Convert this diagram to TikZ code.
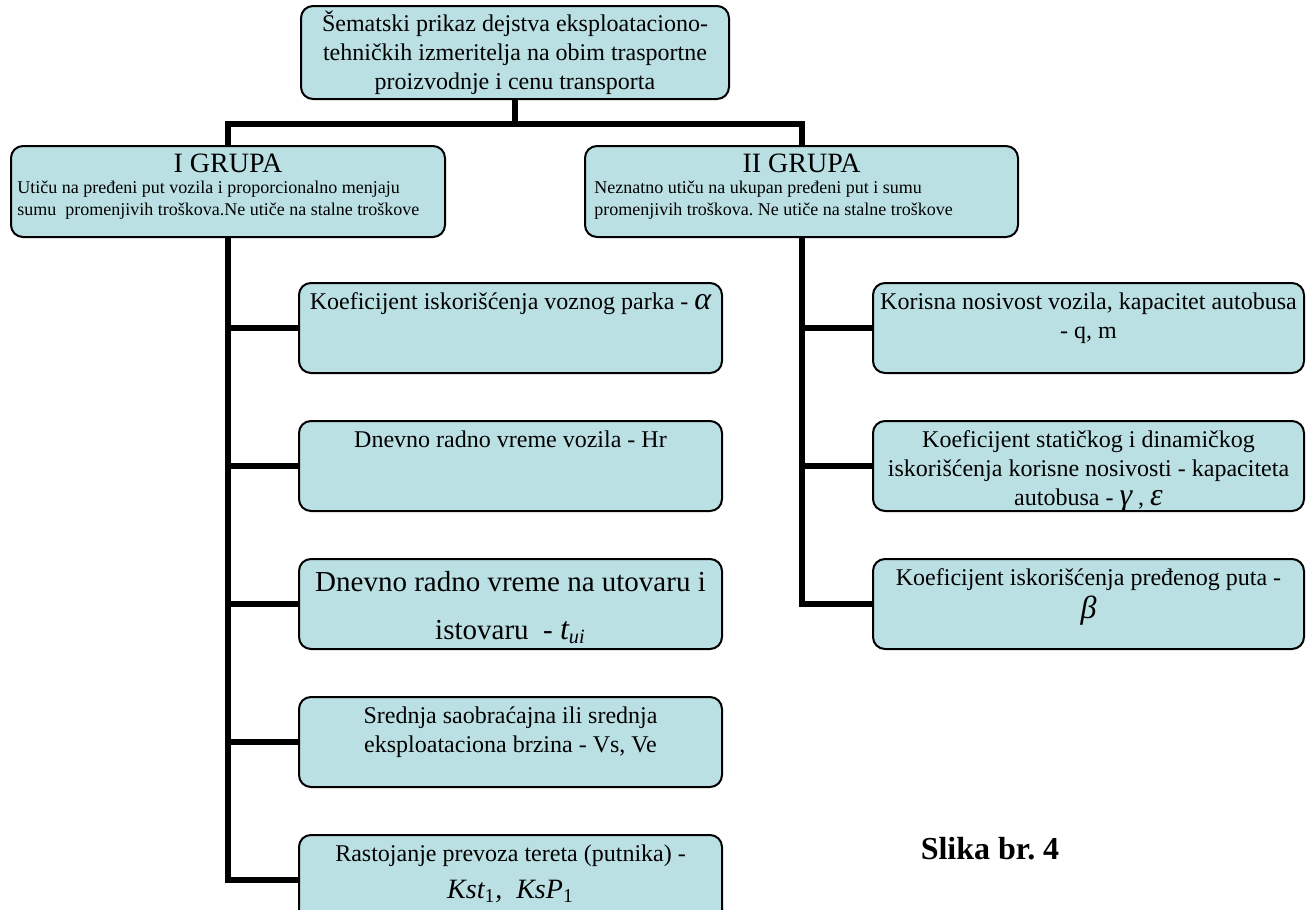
\documentclass[tikz,border=0pt]{standalone}
\usepackage{fontspec}
\setmainfont{Liberation Serif}
\usetikzlibrary{positioning}
\definecolor{boxfill}{RGB}{187,224,227}
\frenchspacing

\begin{document}
\begin{tikzpicture}[x=0.5pt,y=-0.5pt,node distance=23pt,
      card/.style={draw,line width=1pt,rounded corners=6pt,fill=boxfill,anchor=north west,inner sep=0pt},
      leftcard/.style={card,minimum width=211.5pt,minimum height=45pt},
      rightcard/.style={card,minimum width=215.5pt,minimum height=45pt},
      txt/.style={inner sep=0pt,align=center,font=\fontsize{12}{14.5}\selectfont},
      small/.style={inner sep=0pt,align=left,font=\fontsize{9}{11}\selectfont},
      link/.style={line width=3pt}]
  \useasboundingbox (0,0) rectangle (1312,910);
  \clip (0,0) rectangle (1312,910);

  % vrh i dve grupe
  \node[card,minimum width=214pt,minimum height=46.5pt,align=center,font=\fontsize{12}{14.5}\selectfont](Sema) at (300,5)
        {Šematski prikaz dejstva eksploataciono-\\tehničkih izmeritelja na obim trasportne\\proizvodnje i cenu transporta};
  \node[card,minimum width=217pt,minimum height=45.5pt](GrupaI)  at (10,145)  {};
  \node[card,minimum width=216.5pt,minimum height=45.5pt](GrupaII) at (584,145) {};
  \node[below=4.3pt of GrupaI.north,inner sep=0pt,font=\fontsize{14}{16}\selectfont](GrupaIt)  {I GRUPA};
  \node[below=4.3pt of GrupaII.north,inner sep=0pt,font=\fontsize{14}{16}\selectfont](GrupaIIt) {II GRUPA};
  \node[small,below right=18pt and 3.5pt of GrupaI.north west](GrupaId)
        {Utiču na pređeni put vozila i proporcionalno menjaju\\sumu\ \ promenjivih troškova.Ne utiče na stalne troškove};
  \node[small,below right=18pt and 5pt of GrupaII.north west](GrupaIId)
        {Neznatno utiču na ukupan pređeni put i sumu\\promenjivih troškova. Ne utiče na stalne troškove};

  % I grupa
  \node[leftcard]            (k1) at (298,282) {};
  \node[leftcard,below=of k1](k2) {};
  \node[leftcard,below=of k2](k3) {};
  \node[leftcard,below=of k3](k4) {};
  \node[leftcard,below=of k4](k5) {};

  % II grupa
  \node[rightcard]            (r1) at (872,282) {};
  \node[rightcard,below=of r1](r2) {};
  \node[rightcard,below=of r2](r3) {};

  % tekstovi
  \node[txt,below=5pt of k1.north](k1t) {Koeficijent iskorišćenja voznog parka -\ {\fontsize{16}{16}\selectfont\itshape α}};
  \node[txt,below=5pt of k2.north](k2t) {Dnevno radno vreme vozila - Hr};
  \node[txt,below=6.5pt of k3.north,font=\fontsize{14.5}{24}\selectfont](k3t)
        {Dnevno radno vreme na utovaru i\\istovaru\ \ -\ {\fontsize{16}{16}\selectfont\itshape t}\textsubscript{\itshape ui}};
  \node[txt,below=5pt of k4.north](k4t) {Srednja saobraćajna ili srednja\\eksploataciona brzina - Vs, Ve};
  \node[txt,below=5pt of k5.north](k5t)
        {Rastojanje prevoza tereta (putnika) -\\[4pt]{\fontsize{14}{14}\selectfont\itshape Kst\textsubscript{\upshape 1}, \ KsP\textsubscript{\upshape 1}}};
  \node[txt,below=5pt of r1.north](r1t) {Korisna nosivost vozila, kapacitet autobusa\\- q, m};
  \node[txt,below=5pt of r2.north](r2t)
        {Koeficijent statičkog i dinamičkog\\iskorišćenja korisne nosivosti - kapaciteta\\autobusa -\ {\fontsize{16}{16}\selectfont\itshape γ} ,\ {\fontsize{16}{16}\selectfont\itshape ε}};
  \node[txt,below=5pt of r3.north](r3t) {Koeficijent iskorišćenja pređenog puta -\\[2pt]{\fontsize{16}{16}\selectfont\itshape β}};

  \node[font=\fontsize{16}{18}\selectfont\bfseries,inner sep=0pt](Slika) at (990,849) {Slika br. 4};

  % veze
  \draw[link] (Sema.south) -- ++(0,24) coordinate (bar);
  \draw[link] (GrupaI.north) |- (bar) -| (GrupaII.north);
  \draw[link] (GrupaI.south) |- (k5.west);
  \draw[link] (GrupaI.south |- k1.west) -- (k1.west);
  \draw[link] (GrupaI.south |- k2.west) -- (k2.west);
  \draw[link] (GrupaI.south |- k3.west) -- (k3.west);
  \draw[link] (GrupaI.south |- k4.west) -- (k4.west);
  \draw[link] (GrupaII.south) |- (r3.west);
  \draw[link] (GrupaII.south |- r1.west) -- (r1.west);
  \draw[link] (GrupaII.south |- r2.west) -- (r2.west);
\end{tikzpicture}
\end{document}
